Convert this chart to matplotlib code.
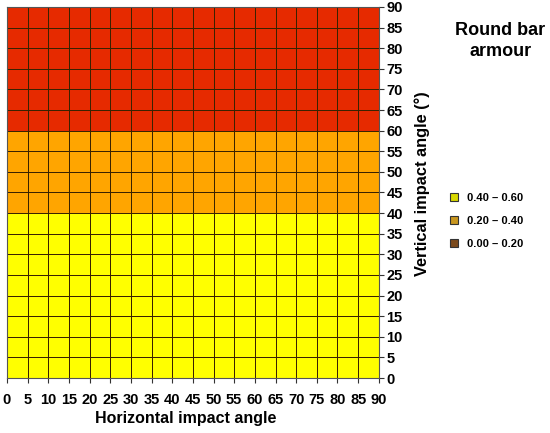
import matplotlib.pyplot as plt
import numpy as np
from matplotlib.colors import ListedColormap, BoundaryNorm
from matplotlib.patches import Patch

plt.rcParams['font.family'] = ['Liberation Sans', 'DejaVu Sans']
plt.rcParams['font.weight'] = 'bold'

# angles (deg)
h_angles = [0, 5, 10, 15, 20, 25, 30, 35, 40, 45, 50, 55, 60, 65, 70, 75, 80, 85, 90]
v_angles = [0, 5, 10, 15, 20, 25, 30, 35, 40, 45, 50, 55, 60, 65, 70, 75, 80, 85, 90]

# value class for each vertical band (bottom to top), same across all horizontal angles
row_values = [0.5, 0.5, 0.5, 0.5, 0.5, 0.5, 0.5, 0.5,
              0.3, 0.3, 0.3, 0.3,
              0.1, 0.1, 0.1, 0.1, 0.1, 0.1]

class_bounds = [0.0, 0.2, 0.4, 0.6]
class_labels = ['0.00 – 0.20', '0.20 – 0.40', '0.40 – 0.60']
fill_colors = ['#e62a00', '#ffa500', '#ffff00']
legend_colors = ['#7b4a1c', '#c8961e', '#d8d800']

grid = np.array([[v] * (len(h_angles) - 1) for v in row_values])

fig = plt.figure(figsize=(5.5, 4.33), dpi=100)
ax = fig.add_axes([0.0127, 0.127, 0.676, 0.857])

cmap = ListedColormap(fill_colors)
norm = BoundaryNorm(class_bounds, cmap.N)
ax.pcolormesh(h_angles, v_angles, grid, cmap=cmap, norm=norm,
              edgecolors='#3a2200', linewidth=0.65)

ax.set_xlim(0, 90)
ax.set_ylim(0, 90)
ax.set_xticks(h_angles)
ax.set_yticks(v_angles)
ax.yaxis.tick_right()
ax.yaxis.set_label_position('right')
ax.tick_params(axis='both', labelsize=10.5, direction='out', length=3.5, width=0.8, pad=2,
               color='#333333')
ax.tick_params(axis='x', pad=7)
for lab in ax.get_xticklabels() + ax.get_yticklabels():
    lab.set_fontweight('bold')
for s in ax.spines.values():
    s.set_color('#555555')
    s.set_linewidth(0.8)

ax.set_xlabel('Horizontal impact angle', fontsize=11.5, fontweight='bold')
ax.xaxis.set_label_coords(0.48, -0.088)
ax.set_ylabel('Vertical impact angle (°)', fontsize=11.8, fontweight='bold')
ax.yaxis.set_label_coords(1.095, 0.525)

fig.text(0.91, 0.905, 'Round bar\narmour', ha='center', va='center',
         fontsize=13, fontweight='bold', linespacing=1.3)

handles = [Patch(facecolor=legend_colors[i], edgecolor='#333333', linewidth=0.8,
                 label=class_labels[i]) for i in [2, 1, 0]]
fig.legend(handles=handles, loc='center left', bbox_to_anchor=(0.8, 0.49),
           frameon=False, handlelength=0.7, handleheight=0.7,
           handletextpad=0.8, labelspacing=1.15, prop={'weight': 'bold', 'size': 8})

fig.savefig('out.png', dpi=100)
